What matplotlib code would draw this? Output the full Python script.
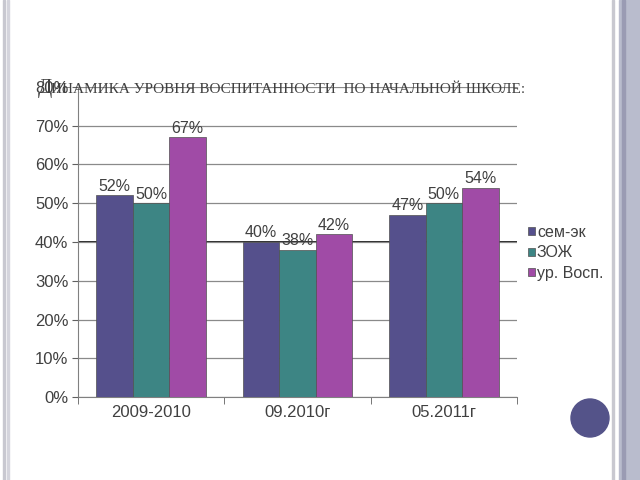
import numpy as np
import matplotlib.pyplot as plt
from matplotlib.patches import Rectangle, Ellipse

# data
categories = ["2009-2010", "09.2010г", "05.2011г"]
series_names = ["сем-эк", "ЗОЖ", "ур. Восп."]
sem_ek = [0.52, 0.40, 0.47]
zozh = [0.50, 0.38, 0.50]
vosp = [0.67, 0.42, 0.54]
colors = ["#55508c", "#3d8584", "#a04ba6"]

plt.rcParams["font.family"] = ["Liberation Sans", "DejaVu Sans"]

fig = plt.figure(figsize=(6.4, 4.8), dpi=100)

# slide decoration
fig.patches.append(Rectangle((3 / 640, 0), 1.5 / 640, 1, transform=fig.transFigure,
                             color="#c8c8d0", zorder=0))
fig.patches.append(Rectangle((7 / 640, 0), 1.5 / 640, 1, transform=fig.transFigure,
                             color="#d4d4dc", zorder=0))
fig.patches.append(Rectangle((612 / 640, 0), 1.5 / 640, 1, transform=fig.transFigure,
                             color="#c8c8d0", zorder=0))
fig.patches.append(Rectangle((619 / 640, 0), 21 / 640, 1, transform=fig.transFigure,
                             color="#b9bccd", zorder=0))
fig.patches.append(Rectangle((622 / 640, 0), 3 / 640, 1, transform=fig.transFigure,
                             color="#9a9bb3", zorder=0))
fig.patches.append(Ellipse((590 / 640, 62 / 480), 38 / 640, 38 / 480,
                           transform=fig.transFigure, color="#545389", zorder=1))

ax = fig.add_axes([78 / 640, 83 / 480, 439 / 640, 310 / 480])

x = np.arange(len(categories))
w = 0.25
data = [sem_ek, zozh, vosp]
for i, (vals, name, c) in enumerate(zip(data, series_names, colors)):
    pos = x + (i - 1) * w
    bars = ax.bar(pos, vals, width=w, color=c, edgecolor="#505050", linewidth=0.5,
                  label=name, zorder=3)
    for b, v in zip(bars, vals):
        ax.text(b.get_x() + b.get_width() / 2, v + 0.004, f"{v * 100:.0f}%",
                ha="center", va="bottom", fontsize=11.5, color="#404040", zorder=4)

ax.set_xlim(-0.5, 2.5)
ax.set_ylim(0, 0.8)
yt = np.arange(0, 0.81, 0.1)
ax.set_yticks(yt)
ax.set_yticklabels([f"{t * 100:.0f}%" for t in yt], fontsize=12, color="#404040")
ax.set_xticks(x)
ax.set_xticklabels(categories, fontsize=12, color="#404040")
ax.tick_params(axis="x", length=0, pad=6)
ax.set_xticks([-0.5, 0.5, 1.5, 2.5], minor=True)
ax.tick_params(axis="x", which="minor", length=5, color="#606060")
ax.tick_params(axis="y", length=4, color="#606060", pad=3)

ax.grid(axis="y", color="#8a8a8a", linewidth=0.9, zorder=0)
ax.axhline(0.4, color="black", linewidth=1.2, zorder=1)
for s in ["top", "right"]:
    ax.spines[s].set_visible(False)
ax.spines["left"].set_color("#808080")
ax.spines["bottom"].set_color("#808080")

leg = ax.legend(loc="center left", bbox_to_anchor=(1.0, 0.465), frameon=False,
                fontsize=11.5, handlelength=0.4, handleheight=0.4, handletextpad=0.15,
                labelspacing=0.35, borderaxespad=0.3)
for t in leg.get_texts():
    t.set_color("#404040")

# title in small caps style
fig.text(38 / 640, 1 - 93 / 480, "Д", fontsize=15, family="Liberation Serif",
         color="#404040", va="baseline", zorder=5)
fig.text(51 / 640, 1 - 93 / 480, "ИНАМИКА УРОВНЯ ВОСПИТАННОСТИ  ПО НАЧАЛЬНОЙ ШКОЛЕ:",
         fontsize=11, family="Liberation Serif", color="#404040", va="baseline", zorder=5)

fig.savefig("out.png", dpi=100)
